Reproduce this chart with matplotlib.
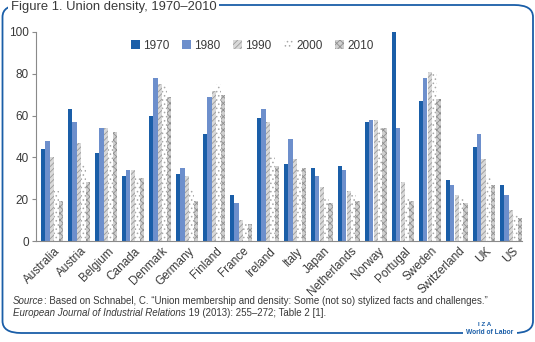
import matplotlib
matplotlib.use("Agg")
import matplotlib.pyplot as plt
from matplotlib.patches import FancyBboxPatch
import numpy as np

countries = ["Australia", "Austria", "Belgium", "Canada", "Denmark", "Germany",
             "Finland", "France", "Ireland", "Italy", "Japan", "Netherlands",
             "Norway", "Portugal", "Sweden", "Switzerland", "UK", "US"]
years = ["1970", "1980", "1990", "2000", "2010"]
d1970 = [44, 63, 42, 31, 60, 32, 51, 22, 59, 37, 35, 36, 57, 100, 67, 29, 45, 27]
d1980 = [48, 57, 54, 34, 78, 35, 69, 18, 63, 49, 31, 34, 58, 54, 78, 27, 51, 22]
d1990 = [40, 47, 54, 34, 75, 31, 72, 10, 57, 39, 26, 24, 58, 28, 81, 22, 39, 15]
d2000 = [24, 37, 49, 31, 74, 25, 75, 8, 40, 35, 21, 22, 54, 21, 80, 21, 30, 13]
d2010 = [19, 28, 52, 30, 69, 19, 70, 8, 36, 35, 18, 19, 54, 19, 68, 18, 27, 11]
series = [d1970, d1980, d1990, d2000, d2010]

BLUE = "#1a5ea8"
TEXT = "#3a3a3a"
plt.rcParams["font.family"] = ["Liberation Sans", "DejaVu Sans"]
plt.rcParams["hatch.linewidth"] = 0.6

styles = [
    dict(color="#1a5ea8", edgecolor="#1a5ea8", hatch=None),
    dict(color="#6d8fcc", edgecolor="#6d8fcc", hatch=None),
    dict(color="#d9d9d9", edgecolor="#9a9a9a", hatch="//////"),
    dict(color="white", edgecolor="#a8a8a8", hatch="...."),
    dict(color="#cfcfcf", edgecolor="#8f8f8f", hatch="xxxxx"),
]

fig = plt.figure(figsize=(5.35, 3.42), dpi=100)
ax = fig.add_axes([36 / 535, 1 - 241 / 342, 486 / 535, 209 / 342])

x = np.arange(len(countries))
w = 1 / 6
for k, (vals, st) in enumerate(zip(series, styles)):
    off = -0.5 + (k + 1.5) * w
    if st["hatch"]:
        ax.bar(x + off, vals, w, color=st["color"], edgecolor=st["edgecolor"],
               hatch=st["hatch"], linewidth=0, label=years[k])
    else:
        ax.bar(x + off, vals, w, color=st["color"], linewidth=0, label=years[k])

ax.set_xlim(-0.5, len(countries) - 0.5)
ax.set_ylim(0, 100)
ax.set_yticks([0, 20, 40, 60, 80, 100])
ax.set_xticks(x + 0.15)
ax.set_xticklabels(countries, rotation=45, ha="right", rotation_mode="anchor")
ax.tick_params(axis="x", length=0, pad=3, labelsize=8.5, labelcolor=TEXT)
ax.tick_params(axis="y", length=3, color="#8a8a8a", labelsize=8.5, labelcolor=TEXT, pad=2)
for s in ["top", "right"]:
    ax.spines[s].set_visible(False)
for s in ["left", "bottom"]:
    ax.spines[s].set_color("#8a8a8a")
    ax.spines[s].set_linewidth(0.8)

leg = ax.legend(loc="upper center", bbox_to_anchor=(0.445, 0.985), ncol=5, frameon=False,
                fontsize=8.5, handlelength=0.75, handleheight=0.75, handletextpad=0.25,
                columnspacing=1.1, borderaxespad=0)
for t in leg.get_texts():
    t.set_color(TEXT)

# frame around the figure
frame = FancyBboxPatch((2.5 / 535, 1 - 333 / 342), 530.5 / 535, 328 / 342,
                       boxstyle="round,pad=0,rounding_size=0.035",
                       transform=fig.transFigure, fill=False, edgecolor=BLUE,
                       linewidth=1.3, zorder=0)
fig.patches.append(frame)
fig.text(11 / 535, 1 - 7 / 342, "Figure 1. Union density, 1970\u20132010", fontsize=9.4,
         color=TEXT, va="center", ha="left",
         bbox=dict(facecolor="white", edgecolor="none", pad=2))
fig.text(490 / 535, 1 - 333 / 342, "World of Labor", fontsize=4.8, color=BLUE, ha="center",
         va="center", fontweight="bold",
         bbox=dict(facecolor="white", edgecolor="none", pad=2.5))
fig.text(485 / 535, 1 - 325 / 342, "I Z A", fontsize=4.5, color=BLUE, ha="center",
         va="center", fontweight="bold")

# source text with italic parts
fig.canvas.draw()
renderer = fig.canvas.get_renderer()


def line(y, parts):
    xpos = 13 / 535
    for txt, style in parts:
        t = fig.text(xpos, y, txt, fontsize=7, color=TEXT, style=style, va="baseline")
        bb = t.get_window_extent(renderer)
        xpos = fig.transFigure.inverted().transform((bb.x1, bb.y0))[0]


line(1 - 304 / 342, [("Source", "italic"),
                     (": Based on Schnabel, C. \u201cUnion membership and density: Some (not so) "
                      "stylized facts and challenges.\u201d", "normal")])
line(1 - 316 / 342, [("European Journal of Industrial Relations", "italic"),
                     (" 19 (2013): 255\u2013272; Table 2 [1].", "normal")])

fig.savefig("out.png", dpi=100)
